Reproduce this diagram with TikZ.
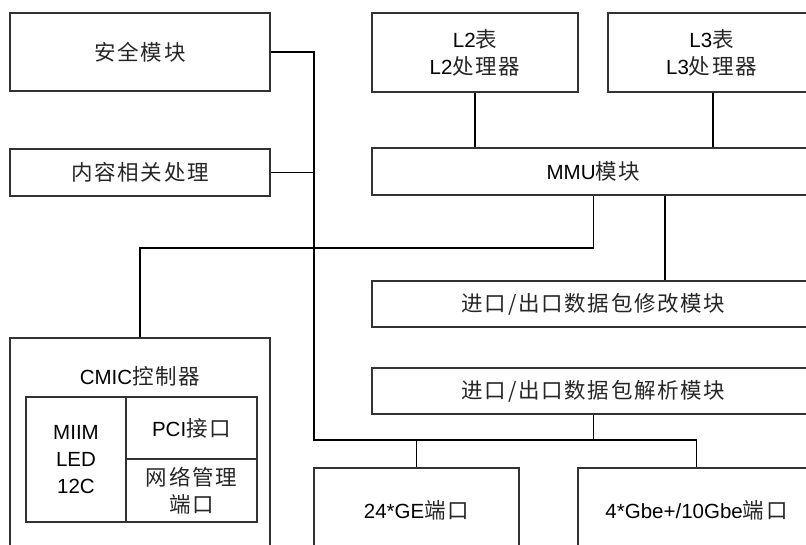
\documentclass[tikz,border=0pt]{standalone}
\usepackage{fontspec}
\setmainfont{Liberation Sans}
\newfontfamily\cjk[LetterSpace=8]{Noto Sans CJK SC}
\newcommand{\zh}[1]{{\cjk\color{black!85}\fontsize{21.5}{24}\selectfont #1}}

\tikzset{
  txt/.style={align=center, inner sep=0pt, font=\fontsize{20.5}{27}\selectfont},
  box/.style={txt, draw=black!80, line width=1.3pt, rectangle},
  wire/.style={draw=black, line width=1.9pt}
}

\begin{document}
\begin{tikzpicture}[x=1pt, y=-1pt]
      \useasboundingbox (0,0) rectangle (806,545);
      \clip (0,0) rectangle (806,545);
      % left column
      \node[box, minimum width=260pt, minimum height=78pt] (sec) at (140,52) {\zh{安全模块}};
      \node[box, minimum width=260pt, minimum height=47pt] (content) at (140,172.5) {\zh{内容相关处理}};
      \node[box, minimum width=260pt, minimum height=230pt] (cmic) at (140,453) {};
      \node[txt] (cmictitle) at (140,376) {CMIC\zh{控制器}};
      \node[box, minimum width=100pt, minimum height=125pt] (miim) at (76,459.5)
        {\fontsize{20.5}{28}\selectfont MIIM\\LED\\12C};
      \node[box, minimum width=131pt, minimum height=62pt] (pci) at (191.5,428) {PCI\zh{接口}};
      \node[box, minimum width=131pt, minimum height=63pt] (netmgmt) at (191.5,490.5)
        {\fontsize{20.5}{25}\selectfont\zh{网络管理}\\\zh{端口}};
      % right column
      \node[box, minimum width=206pt, minimum height=79pt] (l2) at (475,52.5) {L2\zh{表}\\L2\zh{处理器}};
      \node[box, minimum width=207pt, minimum height=79pt] (l3) at (711.5,52.5) {L3\zh{表}\\L3\zh{处理器}};
      \node[box, minimum width=443pt, minimum height=47pt] (mmu) at (593.5,171.5) {MMU\zh{模块}};
      \node[box, minimum width=443pt, minimum height=46pt] (modify) at (593.5,304) {\zh{进口/出口数据包修改模块}};
      \node[box, minimum width=443pt, minimum height=46pt] (parse) at (593.5,391) {\zh{进口/出口数据包解析模块}};
      \node[box, minimum width=205pt, minimum height=110pt] (ge24) at (416.5,523) {};
      \node[txt] (ge24text) at (416.5,510) {24*GE\zh{端口}};
      \node[box, minimum width=237pt, minimum height=110pt] (gbe) at (696.5,523) {};
      \node[txt] (gbetext) at (696.5,510) {4*Gbe+/10Gbe\zh{端口}};
      % bends
      \coordinate (bus) at (314,440);
      \coordinate (cmicbend) at (140,248);
      \coordinate (modx) at (665,0);
      \coordinate (l3x) at (713,0);
      % connectors
      \draw[wire] (sec.east) -| (bus) -| (gbe.north);
      \draw[wire] (content.east) -- (content.east -| bus);
      \draw[wire] (ge24.north) -- (ge24.north |- bus);
      \draw[wire] (parse.south) -- (parse.south |- bus);
      \draw[wire] (l2.south) -- (l2.south |- mmu.north);
      \draw[wire] (l3.south -| l3x) -- (mmu.north -| l3x);
      \draw[wire] (mmu.south) |- (cmicbend) -- (cmic.north);
      \draw[wire] (mmu.south -| modx) -- (modify.north -| modx);
\end{tikzpicture}
\end{document}
